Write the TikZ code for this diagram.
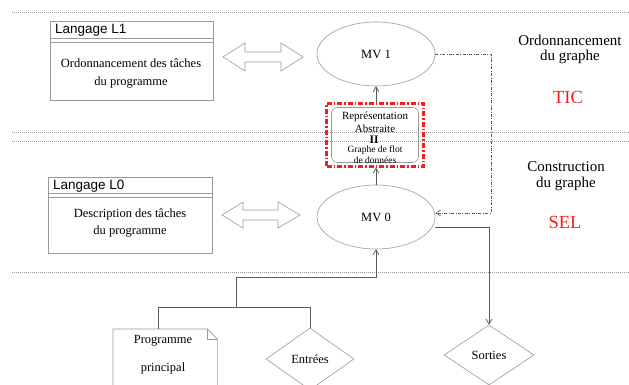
\documentclass[tikz,border=0pt]{standalone}
\usepackage{fontspec}
\setmainfont{Liberation Serif}
\newfontfamily\hvfont{Liberation Sans}
\usetikzlibrary{shapes.geometric,arrows.meta,calc}
\definecolor{lgray}{gray}{0.6}
\definecolor{cgray}{gray}{0.35}
\definecolor{tred}{RGB}{245,30,30}
\begin{document}
\begin{tikzpicture}[x=1pt,y=-1pt,
  sep/.style={lgray, line width=0.5pt, dash pattern=on 0.6pt off 1.4pt},
  box/.style={draw=lgray, line width=0.6pt, rectangle, inner sep=0},
  ell/.style={draw=lgray, line width=0.6pt, ellipse, minimum width=118pt, minimum height=64pt, inner sep=0, font=\fontsize{12.5}{14}\selectfont},
  dia/.style={draw=lgray, line width=0.6pt, diamond, inner sep=0, font=\fontsize{12.5}{14}\selectfont},
  txt/.style={font=\fontsize{12.5}{14}\selectfont, inner sep=0},
  ttl/.style={font=\hvfont\fontsize{13.5}{15}\selectfont, inner sep=0, anchor=west},
  big/.style={font=\fontsize{15}{17}\selectfont, inner sep=0},
  lab/.style={font=\fontsize{18.5}{20}\selectfont, text=tred, inner sep=0},
  conn/.style={draw=cgray, line width=0.7pt},
  tip/.style={-{Straight Barb[length=5pt,width=6pt]}},
  dbl/.style={draw=lgray, line width=0.6pt, line join=miter},
  thin/.style={draw=lgray, line width=0.6pt},
]
\useasboundingbox (0,0) rectangle (629,385);
% separators
\coordinate (s1a) at (12,12);  \coordinate (s1b) at (629,12);
\coordinate (s2a) at (12,132); \coordinate (s2b) at (629,132);
\coordinate (s3a) at (12,141); \coordinate (s3b) at (629,141);
\coordinate (s4a) at (12,272); \coordinate (s4b) at (629,272);
\draw[sep] (s1a) -- (s1b) (s2a) -- (s2b) (s3a) -- (s3b) (s4a) -- (s4b);

% Langage L1 box
\node[box, minimum width=163pt, minimum height=79pt, anchor=north west] (l1) at (50,21) {};
\draw[thin] ($(l1.north west)+(0,17)$) -- ($(l1.north east)+(0,17)$)
            ($(l1.north west)+(0,21)$) -- ($(l1.north east)+(0,21)$);
\node[ttl] (l1t) at (55,30) {Langage L1};
\node[txt] (l1a) at (131,63) {Ordonnancement des tâches};
\node[txt] (l1b) at (131,83) {du programme};

% Langage L0 box
\node[box, minimum width=164pt, minimum height=76pt, anchor=north west] (l0) at (48,177) {};
\draw[thin] ($(l0.north west)+(0,16)$) -- ($(l0.north east)+(0,16)$)
            ($(l0.north west)+(0,20)$) -- ($(l0.north east)+(0,20)$);
\node[ttl] (l0t) at (53,186) {Langage L0};
\node[txt] (l0a) at (130,214) {Description des tâches};
\node[txt] (l0b) at (130,232) {du programme};

% double arrows
\draw[dbl] (223,57) -- (245,43) -- (245,52) -- (281,52) -- (281,43) -- (303,57)
  -- (281,71) -- (281,62) -- (245,62) -- (245,71) -- cycle;
\draw[dbl] (222,215) -- (243,202) -- (243,210) -- (278,210) -- (278,202) -- (300,215)
  -- (278,228) -- (278,220) -- (243,220) -- (243,228) -- cycle;

% ellipses
\node[ell] (mv1) at (376,54) {MV 1};
\node[ell] (mv0) at (376,217) {MV 0};

% representation box
\node[draw=tred, line width=2.2pt, dash pattern=on 5pt off 2pt on 1.5pt off 2pt,
      minimum width=97pt, minimum height=63pt, inner sep=0] (rep) at (375,135) {};
\node[draw=lgray, line width=0.6pt, rounded corners=6pt,
      minimum width=87pt, minimum height=55pt, inner sep=0] (repin) at (375,135) {};
\node[font=\fontsize{11}{12}\selectfont, inner sep=0] (r1) at (375,117) {Représentation};
\node[font=\fontsize{11}{12}\selectfont, inner sep=0] (r2) at (375,129) {Abstraite};
\node[font=\bfseries\fontsize{11.5}{12}\selectfont, inner sep=0] (r3) at (374,139.5) {II};
\node[font=\fontsize{9.5}{11}\selectfont, inner sep=0] (r4) at (375,150) {Graphe de flot};
\node[font=\fontsize{9.5}{11}\selectfont, inner sep=0] (r5) at (375,160) {de données};

\draw[conn, tip] (rep.north -| mv1.south) -- (mv1.south);
\draw[conn, tip] (mv0.north) -- (mv0.north |- rep.south);

% right labels
\node[big] (o1) at (570,40) {Ordonnancement};
\node[big] (o2) at (570,57) {du graphe};
\node[lab] (tic) at (568,97) {TIC};
\node[big] (c1t) at (566,167) {Construction};
\node[big] (c2t) at (566,184) {du graphe};
\node[lab] (sel) at (565,222) {SEL};

% bottom shapes
\node[dia, minimum width=88pt, minimum height=62pt] (ent) at (310,359) {Entrées};
\node[dia, minimum width=90pt, minimum height=60pt] (sor) at (489,355) {Sorties};
\node[minimum width=104pt, minimum height=66pt, inner sep=0, anchor=north west] (prog) at (113,329) {};
\draw[thin] (prog.south west) -- (prog.north west) -- ($(prog.north east)+(-10,0)$)
  -- ($(prog.north east)+(0,10)$) -- (prog.south east);
\draw[thin] ($(prog.north east)+(-10,0)$) |- ($(prog.north east)+(0,10)$);
\node[txt] (pg1) at (163,341) {Programme};
\node[txt] (pg2) at (163,368) {principal};

% connectors
\coordinate (cA) at (491,213);
\draw[draw=cgray, line width=0.6pt, dash pattern=on 3pt off 1.5pt on 0.8pt off 1.5pt, tip]
  (mv1.east) -| (cA) -- (cA -| mv0.east);
\coordinate (cB) at (489,227);
\draw[conn, tip] (cB -| mv0.east) -| (sor.north);
\coordinate (p1) at ($(prog.north west)+(45,0)$);
\coordinate (j1) at (236,307);
\coordinate (j2) at (236,277);
\draw[conn] (p1) |- (j1 -| ent.north) -- (ent.north);
\draw[conn, tip] (j1) -- (j2) -| (mv0.south);
\end{tikzpicture}
\end{document}
